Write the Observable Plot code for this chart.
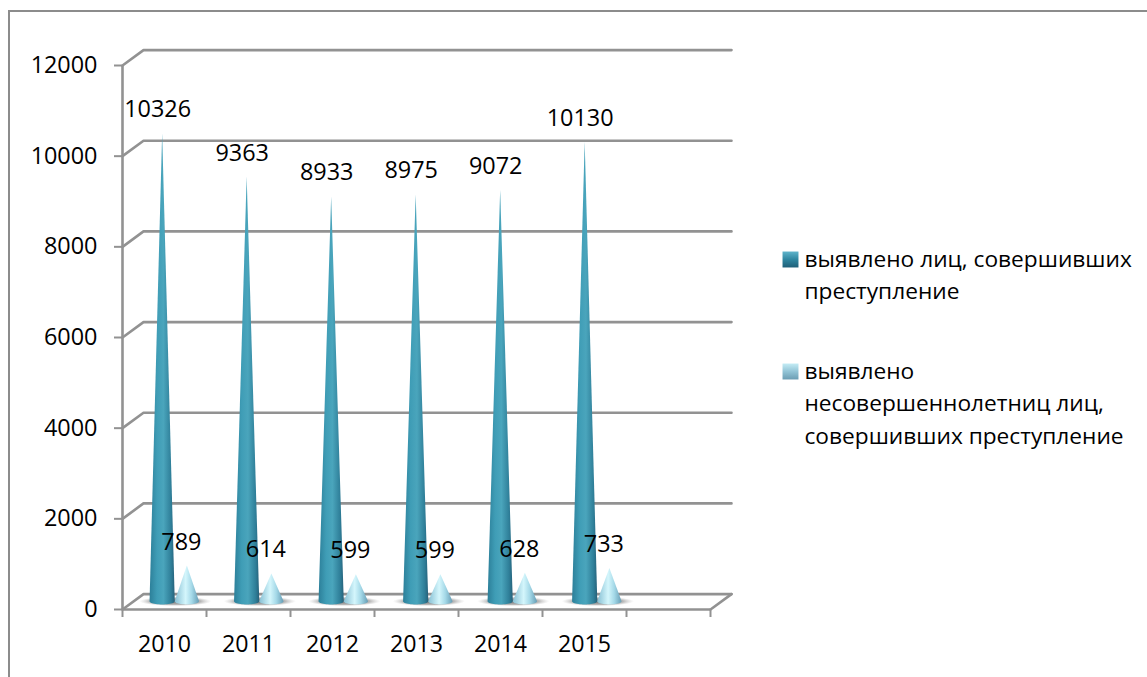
<!DOCTYPE html>
<html><head><meta charset="utf-8">
<script src="https://cdn.jsdelivr.net/npm/d3@7"></script>
<script src="https://cdn.jsdelivr.net/npm/@observablehq/plot@0.6"></script>
<style>
html,body{margin:0;padding:0;background:#fff;overflow:hidden}
#wrap{position:relative;width:1147px;height:677px}
#edge{position:absolute;left:8px;top:10px;right:0;bottom:0;border-left:2px solid #8c8c8c;border-top:2px solid #8c8c8c}
#chart{position:absolute;left:0;top:0}
svg{overflow:visible}
</style></head><body>
<div id="wrap"><div id="edge"></div><div id="chart"></div></div>
<script>
const years = [2010, 2011, 2012, 2013, 2014, 2015];
const offenders = [10326, 9363, 8933, 8975, 9072, 10130];
const minors = [789, 614, 599, 599, 628, 733];
const yTicks = [0, 2000, 4000, 6000, 8000, 10000, 12000];
const legendFirst = ["выявлено лиц, совершивших", "преступление"];
const legendSecond = ["выявлено", "несовершеннолетниц лиц,", "совершивших преступление"];

const depthX = 0.25, depthY = 340;
const cats = 7;
const gridColor = "#929292";
const font = "'Open Sans'";

// outline of a cone or floor shadow, as x1/x2 rows along y
function cone(id, cx, value, hw, ry) {
  const rows = [];
  const base = depthY / 2;
  if (value > 0) rows.push({id, x1: cx, x2: cx, y: base + value});
  for (let i = 0; i <= 12; i++) {
    const t = i / 12 * Math.PI / 2;
    const w = hw * Math.cos(t);
    rows.push({id, x1: cx - w, x2: cx + w, y: base - ry * Math.sin(t)});
  }
  return rows;
}
function blob(id, cx, hw, ry) {
  const rows = [];
  const base = depthY / 2;
  for (let i = 0; i <= 24; i++) {
    const t = -Math.PI / 2 + i / 24 * Math.PI;
    const w = hw * Math.cos(t);
    rows.push({id, x1: cx - w, x2: cx + w, y: base - ry * Math.sin(t)});
  }
  return rows;
}
const center = i => i * 1.006 + 0.5 + depthX / 2;
const off = 0.147;
const bigCones = years.flatMap((y, i) => cone("a" + i, center(i) - off, offenders[i], 0.15, 70));
const smallCones = years.flatMap((y, i) => cone("b" + i, center(i) + off, minors[i], 0.145, 70));
const shadows = years.flatMap((y, i) => blob("s" + i, center(i) + 0.01, 0.43, 105));
const bigLabels = years.map((y, i) => ({x: center(i) - off, y: offenders[i] + depthY / 2, t: String(offenders[i])}));
const smallLabels = years.map((y, i) => ({x: center(i) + off, y: minors[i] + depthY / 2, t: String(minors[i])}));
const gridPaths = yTicks.flatMap(v => [
  {v, x: 0, y: v},
  {v, x: depthX, y: v + depthY},
  {v, x: cats + depthX, y: v + depthY}
]);

const defs = () => {
  const ns = "http://www.w3.org/2000/svg";
  const d = document.createElementNS(ns, "defs");
  d.innerHTML = `
  <linearGradient id="gA" x1="0" x2="1" y1="0" y2="0">
    <stop offset="0" stop-color="#2c7f99"/><stop offset=".3" stop-color="#3f9db6"/>
    <stop offset=".55" stop-color="#4aa5bc"/><stop offset=".85" stop-color="#2f7f99"/><stop offset="1" stop-color="#26617a"/>
  </linearGradient>
  <linearGradient id="gB" x1="0" x2="1" y1="0" y2="0">
    <stop offset="0" stop-color="#86bfd3"/><stop offset=".45" stop-color="#d4f6fc"/>
    <stop offset=".7" stop-color="#a5d9e8"/><stop offset="1" stop-color="#669db5"/>
  </linearGradient>
  <linearGradient id="gLA" x1="0" x2="0" y1="0" y2="1">
    <stop offset="0" stop-color="#5fb4cb"/><stop offset=".5" stop-color="#2f86a0"/><stop offset="1" stop-color="#1f5f78"/>
  </linearGradient>
  <linearGradient id="gLB" x1="0" x2="0" y1="0" y2="1">
    <stop offset="0" stop-color="#c4ecf5"/><stop offset=".5" stop-color="#92c4d6"/><stop offset="1" stop-color="#6b9db3"/>
  </linearGradient>
  <radialGradient id="gS"><stop offset="0" stop-color="#555" stop-opacity=".9"/><stop offset=".7" stop-color="#888" stop-opacity=".6"/><stop offset="1" stop-color="#bbb" stop-opacity="0"/></radialGradient>`;
  return d;
};

const legendText = (lines, dy0) => lines.map((t, i) =>
  Plot.text([t], {text: d => d, frameAnchor: "top-left", textAnchor: "start", lineAnchor: "middle",
    dx: 682, dy: dy0 + i * 32.5, fontSize: 22.7, fill: "#000"}));

const plot = Plot.plot({
  width: 1147, height: 677,
  marginLeft: 122, marginRight: 437, marginTop: 65, marginBottom: 68,
  x: {domain: [0, cats]},
  y: {domain: [0, 12000]},
  style: {fontFamily: font, background: "transparent", color: "#000"},
  marks: [
    defs,
    Plot.line(gridPaths, {x: "x", y: "y", z: "v", stroke: gridColor, strokeWidth: 2.6, strokeLinejoin: "miter"}),
    Plot.ruleX([0], {y1: 0, y2: 12000, stroke: gridColor, strokeWidth: 2.6}),
    Plot.ruleY([0], {x1: 0, x2: cats, stroke: gridColor, strokeWidth: 2.6}),
    Plot.line([{x: cats, y: 0}, {x: cats + depthX, y: depthY}], {x: "x", y: "y", stroke: gridColor, strokeWidth: 2.6}),
    Plot.axisY(yTicks, {tickSize: 8, tickPadding: 17, stroke: gridColor, strokeWidth: 2, fontSize: 23.4, label: null,
      tickFormat: d => String(d), fill: "#000"}),
    Plot.axisX(d3.range(0, cats + 1), {tickSize: 8, tickPadding: 0, stroke: gridColor, strokeWidth: 2, tickFormat: () => "", label: null}),
    Plot.text(years, {x: (d, i) => i + 0.5, y: 0, text: d => String(d), dy: 35, fontSize: 23.2, fill: "#000"}),
    Plot.areaX(shadows, {x1: "x1", x2: "x2", y: "y", z: "id", fill: "url(#gS)"}),
    Plot.areaX(bigCones, {x1: "x1", x2: "x2", y: "y", z: "id", fill: "url(#gA)"}),
    Plot.areaX(smallCones, {x1: "x1", x2: "x2", y: "y", z: "id", fill: "url(#gB)"}),
    Plot.text(bigLabels, {x: "x", y: "y", text: "t", dx: -5, dy: -24, fontSize: 23.4, fill: "#000"}),
    Plot.text(smallLabels, {x: "x", y: "y", text: "t", dx: -6, dy: -24, fontSize: 23.4, fill: "#000"}),
    Plot.dot([0], {frameAnchor: "top-left", dx: 668, dy: 194, symbol: "square", r: 9, fill: "url(#gLA)"}),
    Plot.dot([0], {frameAnchor: "top-left", dx: 668, dy: 306, symbol: "square", r: 9, fill: "url(#gLB)"}),
    ...legendText(legendFirst, 194),
    ...legendText(legendSecond, 306)
  ]
});
document.getElementById("chart").append(plot);
</script>
</body></html>
